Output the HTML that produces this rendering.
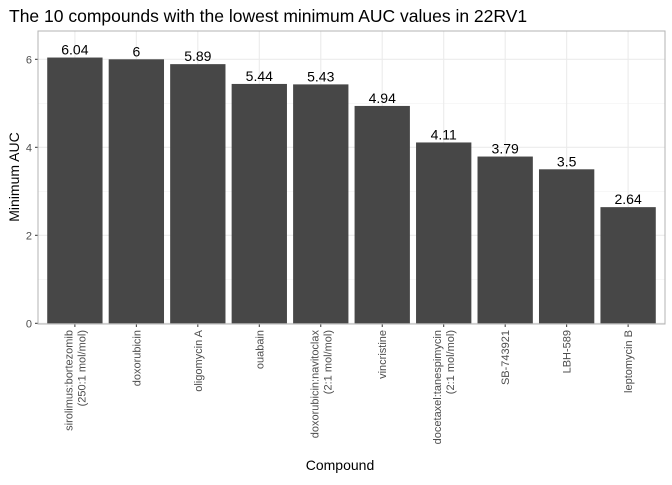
<!DOCTYPE html>
<html><head><meta charset="utf-8"><style>
body{margin:0;background:#fff;}
svg{font-family:"Liberation Sans",sans-serif;}
</style></head><body>
<svg width="672" height="480" id="c">
<text x="9" y="22" font-size="17.5" fill="#000">The 10 compounds with the lowest minimum AUC values in 22RV1</text>
<g id="plot"></g>
<text x="340" y="470" font-size="14" text-anchor="middle">Compound</text>
<text transform="translate(19,177) rotate(-90)" font-size="14" text-anchor="middle">Minimum AUC</text>
</svg>
<script>
const categories=[["sirolimus:bortezomib","(250:1 mol/mol)"],["doxorubicin"],["oligomycin A"],["ouabain"],["doxorubicin:navitoclax","(2:1 mol/mol)"],["vincristine"],["docetaxel:tanespimycin","(2:1 mol/mol)"],["SB-743921"],["LBH-589"],["leptomycin B"]];
const values=[6.04,6,5.89,5.44,5.43,4.94,4.11,3.79,3.5,2.64];
const valueLabels=["6.04","6","5.89","5.44","5.43","4.94","4.11","3.79","3.5","2.64"];
const yTicks=[0,2,4,6];
const L=38,R=665,T=31,B=324;
const y0=323.3,pxu=44;
function yS(v){return y0-v*pxu;}
const step=(R-L)/(categories.length+0.2);
function xS(i){return L+(i+0.6)*step;}
const ns="http://www.w3.org/2000/svg";
const g=document.getElementById('plot');
function mk(t,a,p){const e=document.createElementNS(ns,t);for(const k in a)e.setAttribute(k,a[k]);(p||g).appendChild(e);return e;}
const bg=mk('rect',{x:L,y:T,width:R-L,height:B-T,fill:'#fff'});


for(let v=1;v<=6;v+=2){mk('line',{x1:L,x2:R,y1:yS(v),y2:yS(v),stroke:'#f2f2f2','stroke-width':0.6});}
yTicks.forEach(v=>{mk('line',{x1:L,x2:R,y1:yS(v),y2:yS(v),stroke:'#ebebeb','stroke-width':1.1});
const t=mk('text',{x:L-6,y:yS(v)+4,'font-size':11,'text-anchor':'end',fill:'#4d4d4d'});t.textContent=v;


mk('line',{x1:L-3,x2:L,y1:yS(v),y2:yS(v),stroke:'#333'});});
categories.forEach((c,i)=>{mk('line',{x1:xS(i),x2:xS(i),y1:T,y2:B,stroke:'#ebebeb','stroke-width':1.1});});
categories.forEach((c,i)=>{
const w=step*0.9;
const r=mk('rect',{x:xS(i)-w/2,y:yS(values[i]),width:w,height:y0-yS(values[i]),fill:'#474747'});


const t=mk('text',{x:xS(i),y:yS(values[i])-3,'font-size':14,'text-anchor':'middle',fill:'#000'});t.textContent=valueLabels[i];


mk('line',{x1:xS(i),x2:xS(i),y1:B,y2:B+3,stroke:'#333'});
const n=c.length;
c.forEach((line,j)=>{
const xx=xS(i)+4-(n-1)*6.5+j*13;
const lt=mk('text',{transform:`translate(${xx},${B+6}) rotate(-90)`,'font-size':11,'text-anchor':'end',fill:'#4d4d4d'});
lt.textContent=line;


});
});
mk('rect',{x:L,y:T,width:R-L,height:B-T,fill:'none',stroke:'#b3b3b3','stroke-width':1});
</script>
</body></html>
